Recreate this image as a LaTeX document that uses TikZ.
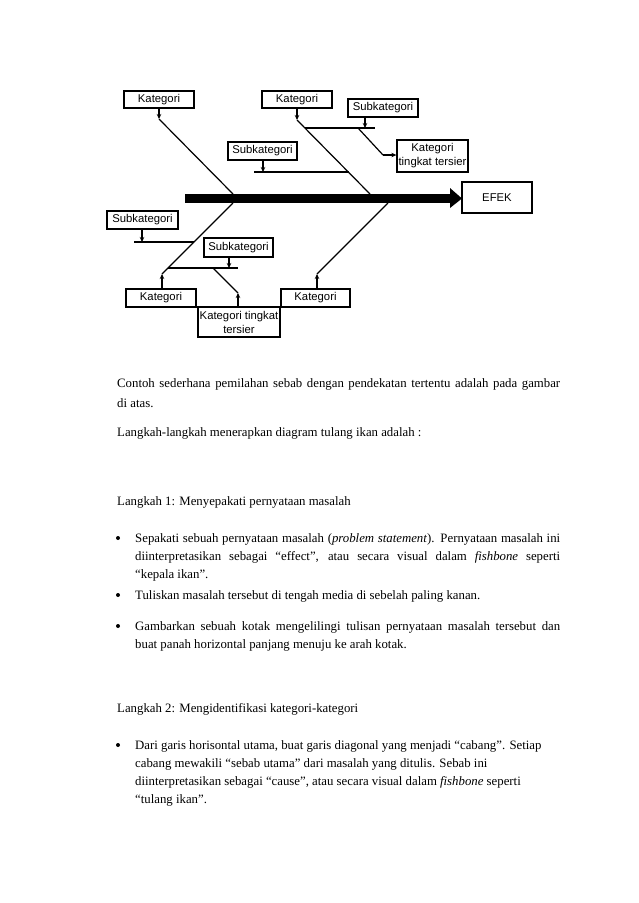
\documentclass[tikz,border=0pt]{standalone}
\usepackage{fontspec}
\setmainfont{Liberation Serif}
\newfontfamily\diagfont{Liberation Sans}
\usetikzlibrary{arrows.meta}
\begin{document}
\begin{tikzpicture}[x=1pt,y=-1pt,
  box/.style={draw,line width=1.3pt,inner sep=0pt,align=center,font=\diagfont\fontsize{11.3}{12}\selectfont},
  box2/.style={box,font=\diagfont\fontsize{11.3}{14}\selectfont},
  bone/.style={line width=1.2pt},
  arr/.style={line width=1.1pt,-{Stealth[length=5pt,width=4.5pt]}},
  body/.style={anchor=base west,inner sep=0pt,font=\fontsize{12.8}{15}\selectfont},
  bul/.style={fill,circle,inner sep=0pt,minimum size=4pt}]
\useasboundingbox (0,0) rectangle (638,903);
\fill[white] (0,0) rectangle (638,903);
% boxes
\node[box,minimum width=70pt,minimum height=17pt] (k1) at (159,99.5) {Kategori};
\node[box,minimum width=70pt,minimum height=17pt] (k2) at (297,99.5) {Kategori};
\node[box,minimum width=70pt,minimum height=18pt] (s1) at (383,108) {Subkategori};
\node[box,minimum width=69pt,minimum height=18pt] (s2) at (262.5,151) {Subkategori};
\node[box2,minimum width=71pt,minimum height=32pt] (t1) at (432.5,156) {Kategori\\tingkat tersier};
\node[box,minimum width=70pt,minimum height=31pt] (efek) at (497,197.5) {EFEK};
\node[box,minimum width=71pt,minimum height=18pt] (s3) at (142.5,220) {Subkategori};
\node[box,minimum width=69pt,minimum height=19pt] (s4) at (238.5,247.5) {Subkategori};
\node[box,minimum width=70pt,minimum height=18pt] (k3) at (161,298) {Kategori};
\node[box2,minimum width=82pt,minimum height=30pt] (t2) at (239,322) {Kategori tingkat\\tersier};
\node[box,minimum width=69pt,minimum height=18pt] (k4) at (315.5,298) {Kategori};
% spine
\fill (185,194) rectangle (450,203);
\fill (450,188) -- (462,198.5) -- (450,208) -- cycle;
% junction coordinates
\coordinate (a1) at (159,119); \coordinate (j1) at (233,194);
\coordinate (a2) at (297,120); \coordinate (j2) at (370,194);
\coordinate (h1a) at (305,128); \coordinate (h1b) at (375,128);
\coordinate (h1s) at (365,128);
\coordinate (d1a) at (358,128); \coordinate (d1b) at (383,155);
\coordinate (h2a) at (254,172); \coordinate (h2b) at (349,172); \coordinate (h2s) at (263,172);
\coordinate (j3) at (233,203); \coordinate (a3) at (162,274);
\coordinate (j4) at (388,203); \coordinate (a4) at (317,274);
\coordinate (h3a) at (134,242); \coordinate (h3b) at (194,242); \coordinate (h3s) at (142,242);
\coordinate (h4a) at (168,268); \coordinate (h4b) at (238,268); \coordinate (h4s) at (229,268);
\coordinate (d2a) at (213,268); \coordinate (d2b) at (238,293);
% bones
\draw[bone] (a1) -- (j1);
\draw[bone] (a2) -- (j2);
\draw[bone] (j3) -- (a3);
\draw[bone] (j4) -- (a4);
\draw[bone] (h1a) -- (h1b);
\draw[bone] (h2a) -- (h2b);
\draw[bone] (h3a) -- (h3b);
\draw[bone] (h4a) -- (h4b);
\draw[bone] (d1a) -- (d1b);
\draw[bone] (d2a) -- (d2b);
% arrows
\draw[arr] (k1.south) -- (a1);
\draw[arr] (k2.south) -- (a2);
\draw[arr] (s1.south -| h1s) -- (h1s);
\draw[arr] (s2.south -| h2s) -- (h2s);
\draw[arr] (s3.south -| h3s) -- (h3s);
\draw[arr] (s4.south -| h4s) -- (h4s);
\draw[arr] (d1b) -- (t1.west |- d1b);
\draw[arr] (k3.north -| a3) -- (a3);
\draw[arr] (k4.north -| a4) -- (a4);
\draw[arr] (t2.north -| d2b) -- (d2b);
% body text
\node[body] (p1) at (117,387) {\makebox[443pt][s]{Contoh sederhana pemilahan sebab dengan pendekatan tertentu adalah pada gambar}};
\node[body] (p2) at (117,407) {di atas.};
\node[body] (p3) at (117,436) {Langkah-langkah menerapkan diagram tulang ikan adalah :};
\node[body] (p4) at (117,505) {Langkah 1: Menyepakati pernyataan masalah};
\node[bul] (b1) at (118,538) {};
\node[body] (l1) at (135,542) {\makebox[425pt][s]{Sepakati sebuah pernyataan masalah (\textit{problem statement}). Pernyataan masalah ini}};
\node[body] (l2) at (135,560) {\makebox[425pt][s]{diinterpretasikan sebagai “effect”, atau secara visual dalam \textit{fishbone} seperti}};
\node[body] (l3) at (135,578) {“kepala ikan”.};
\node[bul] (b2) at (118,595) {};
\node[body] (l4) at (135,599) {Tuliskan masalah tersebut di tengah media di sebelah paling kanan.};
\node[bul] (b3) at (118,626) {};
\node[body] (l5) at (135,630) {\makebox[425pt][s]{Gambarkan sebuah kotak mengelilingi tulisan pernyataan masalah tersebut dan}};
\node[body] (l6) at (135,648) {buat panah horizontal panjang menuju ke arah kotak.};
\node[body] (p5) at (117,712) {Langkah 2: Mengidentifikasi kategori-kategori};
\node[bul] (b4) at (118,745) {};
\node[body] (m1) at (135,749) {Dari garis horisontal utama, buat garis diagonal yang menjadi “cabang”. Setiap};
\node[body] (m2) at (135,767) {cabang mewakili “sebab utama” dari masalah yang ditulis. Sebab ini};
\node[body] (m3) at (135,785) {diinterpretasikan sebagai “cause”, atau secara visual dalam \textit{fishbone} seperti};
\node[body] (m4) at (135,803) {“tulang ikan”.};
\end{tikzpicture}
\end{document}
